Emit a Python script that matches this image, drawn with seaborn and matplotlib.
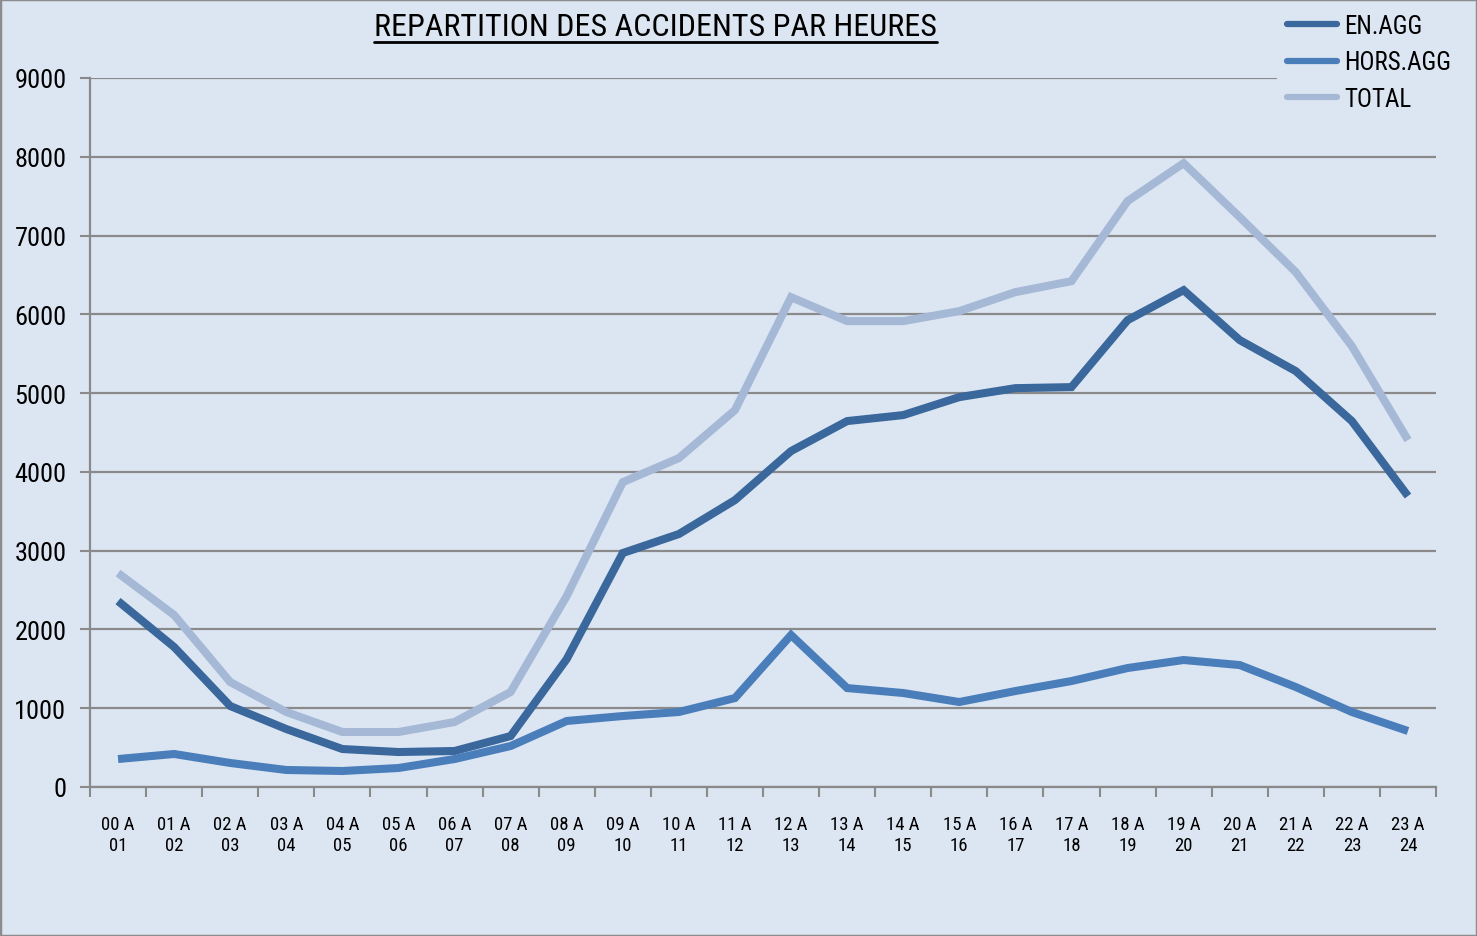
import numpy as np
import pandas as pd
import seaborn as sns
import matplotlib.pyplot as plt
from matplotlib.lines import Line2D
from matplotlib.patches import Rectangle
from matplotlib import font_manager

# tranches horaires
hours = [f"{h:02d} A\n{h + 1:02d}" for h in range(24)]

en_agg = [2360, 1777, 1028, 736, 482, 444, 457, 647, 1624, 2970, 3211, 3642,
          4264, 4645, 4721, 4949, 5063, 5076, 5926, 6307, 5673, 5279, 4645, 3693]
hors_agg = [355, 419, 305, 216, 203, 241, 355, 520, 838, 901, 952, 1129,
            1929, 1256, 1193, 1079, 1218, 1345, 1510, 1612, 1548, 1269, 952, 711]
total = [2716, 2183, 1332, 952, 698, 698, 825, 1206, 2424, 3870, 4175, 4784,
         6218, 5914, 5914, 6041, 6282, 6421, 7437, 7919, 7234, 6536, 5596, 4404]

series = ['EN.AGG', 'HORS.AGG', 'TOTAL']
colors = ['#3A679C', '#4A7EBB', '#A5B8D6']
bg = '#DCE6F2'

df = pd.DataFrame({'idx': np.tile(np.arange(24), 3),
                   'serie': np.repeat(series, 24),
                   'val': en_agg + hors_agg + total})

sns.set_theme(style='white')
names = {f.name for f in font_manager.fontManager.ttflist}
narrow = [n for n in ['Liberation Sans Narrow', 'Roboto Condensed',
                      'Open Sans Condensed', 'DejaVu Sans Condensed'] if n in names]
plt.rcParams['font.family'] = narrow + ['DejaVu Sans']
plt.rcParams['font.stretch'] = 'condensed'
plt.rcParams['text.color'] = 'black'
plt.rcParams['xtick.color'] = 'black'
plt.rcParams['ytick.color'] = 'black'

fig = plt.figure(figsize=(14.77, 9.37), dpi=100, facecolor=bg)
ax = fig.add_axes([90 / 1477, 1 - 788 / 937, 1346 / 1477, 709 / 937])
ax.set_facecolor(bg)

sns.lineplot(data=df, x='idx', y='val', hue='serie', hue_order=series,
             palette=colors, linewidth=5.8, ax=ax, legend=False,
             solid_capstyle='butt', solid_joinstyle='miter')

ax.set_xlim(-0.5, 23.5)
ax.set_ylim(0, 9000)
ax.set_yticks(range(0, 9001, 1000))
ax.yaxis.grid(True, color='#8A8A8A', linewidth=1.6)
ax.set_axisbelow(True)
ax.tick_params(axis='y', labelsize=19, length=7, width=1.5, color='#8A8A8A',
               labelcolor='black', left=True, pad=10)

# graduations aux limites des tranches, libellés au centre
ax.set_xticks(np.arange(-0.5, 24, 1))
ax.set_xticklabels([])
ax.set_xticks(np.arange(24), minor=True)
ax.set_xticklabels(hours, minor=True, fontsize=13.5, linespacing=1.25)
ax.tick_params(axis='x', which='major', length=7, width=1.5, color='#8A8A8A',
               bottom=True)
ax.tick_params(axis='x', which='minor', length=0, pad=20, labelcolor='black')

for s in ['top', 'right']:
    ax.spines[s].set_visible(False)
for s in ['left', 'bottom']:
    ax.spines[s].set_color('#8A8A8A')
    ax.spines[s].set_linewidth(1.6)
ax.set_xlabel('')
ax.set_ylabel('')

handles = [Line2D([], [], color=c, linewidth=4.5) for c in colors]
leg = fig.legend(handles, series, loc='upper left',
                 bbox_to_anchor=(1272 / 1477, 1.0), fontsize=18,
                 frameon=True, facecolor=bg, edgecolor=bg, framealpha=1,
                 handlelength=2.0, handletextpad=0.28, labelspacing=0.5,
                 borderaxespad=0.2)
leg.get_frame().set_linewidth(0)

title = fig.text(655 / 1477, 1 - 27 / 937, 'REPARTITION DES ACCIDENTS PAR HEURES',
                 ha='center', va='center', fontsize=23)
fig.canvas.draw()
bb = title.get_window_extent().transformed(fig.transFigure.inverted())
fig.add_artist(Line2D([bb.x0, bb.x1], [bb.y0 - 0.002, bb.y0 - 0.002],
                      transform=fig.transFigure, color='black', linewidth=2))

fig.add_artist(Rectangle((0, 0), 1, 1, transform=fig.transFigure, fill=False,
                         edgecolor='#8C8C8C', linewidth=2.5))

fig.savefig('out.png', dpi=100, facecolor=bg)
